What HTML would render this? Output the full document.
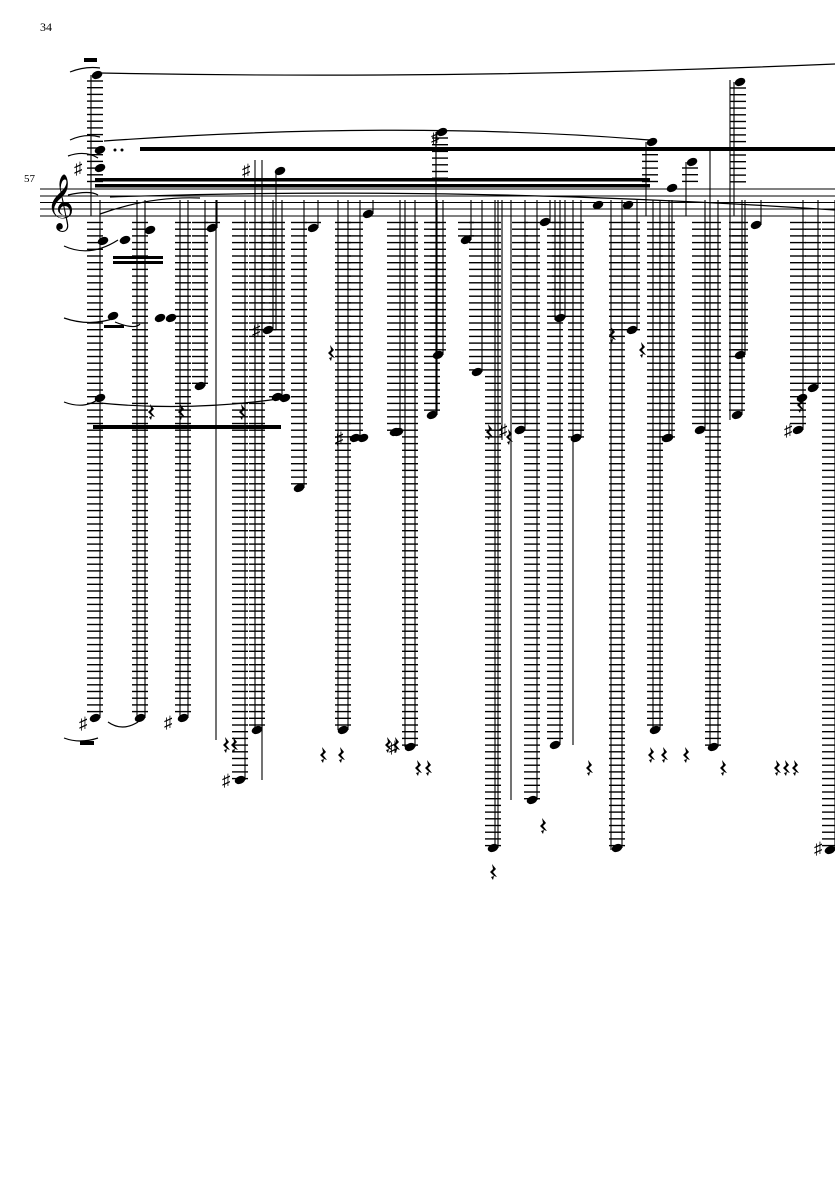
<!DOCTYPE html>
<html><head><meta charset="utf-8"><style>
html,body{margin:0;padding:0;background:#fff;width:835px;height:1181px;overflow:hidden}
svg{display:block}
text{font-family:"Liberation Serif",serif;fill:#000}
</style></head><body>
<svg id="s" width="835" height="1181" viewBox="0 0 835 1181" xmlns="http://www.w3.org/2000/svg">
<text x="40" y="31" font-size="12">34</text>
<text x="24" y="182" font-size="11">57</text>
<g stroke="#000" stroke-width="1">
<line x1="40" y1="189" x2="835" y2="189"/><line x1="40" y1="196" x2="835" y2="196"/>
<line x1="40" y1="202.5" x2="835" y2="202.5"/><line x1="40" y1="209" x2="835" y2="209"/>
<line x1="40" y1="216" x2="835" y2="216"/>
</g>
<text x="46" y="218" font-size="48" font-family="DejaVu Sans">𝄞</text>
<g fill="none" stroke="#000" stroke-width="1.2">
<path d="M70,72 Q85,66 100,68"/>
<path d="M100,73 Q460,80 835,64"/>
<path d="M70,140 Q85,133 100,137"/>
<path d="M104,141 Q400,120 650,140"/>
<path d="M68,156 Q85,150 98,158"/>
<path d="M68,195 Q90,190 98,195"/>
<path d="M100,214 Q150,196 200,198"/>
<path d="M110,197 Q460,185 835,210"/>
<path d="M64,246 Q90,258 118,240"/>
<path d="M64,318 Q90,327 115,318"/>
<path d="M115,322 Q135,330 140,324"/>
<path d="M64,402 Q85,410 100,398"/>
<path d="M100,403 Q190,412 285,398"/>
<path d="M64,738 Q80,744 98,738"/>
<path d="M108,722 Q122,732 138,722"/>
</g>
<g fill="#000">
<rect x="140" y="147" width="695" height="4"/>
<rect x="95" y="178" width="555" height="3.5"/>
<rect x="95" y="184" width="555" height="3.5"/>
<rect x="104" y="325" width="20" height="3"/><rect x="113" y="256" width="50" height="3"/><rect x="113" y="261" width="50" height="3"/>
<rect x="93" y="425" width="188" height="4"/>
<rect x="84" y="58" width="13" height="4"/>
<rect x="80" y="741" width="14" height="4"/>
</g>
<g id="g" stroke="#000" stroke-width="1.4" fill="none"></g>
<g id="n" fill="#000"></g>
<g id="a" font-size="17" font-family="DejaVu Sans"></g>
</svg>
<script>
var g=document.getElementById('g'),n=document.getElementById('n'),a=document.getElementById('a');
var NS='http://www.w3.org/2000/svg';
function el(p,t,at){var e=document.createElementNS(NS,t);for(var k in at)e.setAttribute(k,at[k]);p.appendChild(e);return e;}
function ledger(x,y1,y2){for(var y=y1;y<=y2+0.1;y+=6.7)el(g,'line',{x1:x-8,y1:y,x2:x+8,y2:y});}
function stem(x,y1,y2){el(g,'line',{x1:x,y1:y1,x2:x,y2:y2,'stroke-width':1.1});}
function head(x,y){el(n,'ellipse',{cx:x,cy:y,rx:5.5,ry:3.8,transform:'rotate(-22 '+x+' '+y+')'});}
function sharp(x,y){var t=el(a,'text',{x:x-14,y:y+6});t.textContent='♯';}
function rest(x,y){el(n,'path',{d:'M'+x+','+(y-8)+' l4,5 -3,3 4,5 -3,-1 -1,4 -2,-3 3,-1 -4,-4 3,-3z'});}
var cols=[[95,718],[140,718],[183,718],[200,386],[212,228],[240,780],[257,730],[268,330],[277,397],[299,488],[313,228],[343,730],[355,438],[368,214],[395,432],[410,747],[432,415],[438,355],[466,240],[477,372],[493,848],[520,430],[532,800],[545,222],[555,745],[560,318],[576,438],[617,848],[632,330],[655,730],[667,438],[700,430],[713,747],[737,415],[740,355],[756,225],[798,430],[813,388],[830,850]];
cols.forEach(function(c){var x=c[0],b=c[1];if(b>225)ledger(x,222.5,b);stem(x+5,Math.min(b,200),b);head(x,b);});
[[137,200,720],[180,200,720],[216,200,740],[255,160,730],[262,160,780],[276,170,330],[338,200,730],[405,200,747],[436,140,415],[495,200,850],[502,200,440],[511,200,800],[555,200,320],[573,200,745],[611,200,850],[653,200,730],[669,200,440],[710,150,747],[730,80,420]].forEach(function(s){stem(s[0],s[1],s[2]);});
[[95,75,182],[440,132,182],[650,142,182],[690,162,182],[738,82,182]].forEach(function(c){ledger(c[0],c[1]+6,c[2]);head(c[0]+2,c[1]);stem(c[0]-4,c[1],216);});
head(100,150);head(100,168);head(280,171);head(672,188);head(628,205);head(598,205);head(103,241);head(125,240);head(150,230);head(113,316);head(160,318);head(171,318);head(100,398);head(285,398);head(363,438);head(398,432);head(520,430);head(576,438);head(668,438);head(802,398);
[[90,168],[268,330],[447,137],[258,170],[351,438],[405,747],[515,430],[95,723],[180,722],[238,780],[800,430],[830,848]].forEach(function(s){sharp(s[0]-2,s[1]);});
el(n,'circle',{cx:115,cy:150,r:1.5});el(n,'circle',{cx:122,cy:150,r:1.5});
[[150,412],[180,412],[241,412],[330,353],[225,745],[233,745],[322,755],[340,755],[387,745],[395,745],[417,768],[427,768],[492,872],[542,826],[588,768],[650,755],[663,755],[685,755],[722,768],[776,768],[785,768],[794,768],[611,335],[641,350],[488,432],[508,437],[799,405]].forEach(function(r){rest(r[0],r[1]);});
</script>
</body></html>
